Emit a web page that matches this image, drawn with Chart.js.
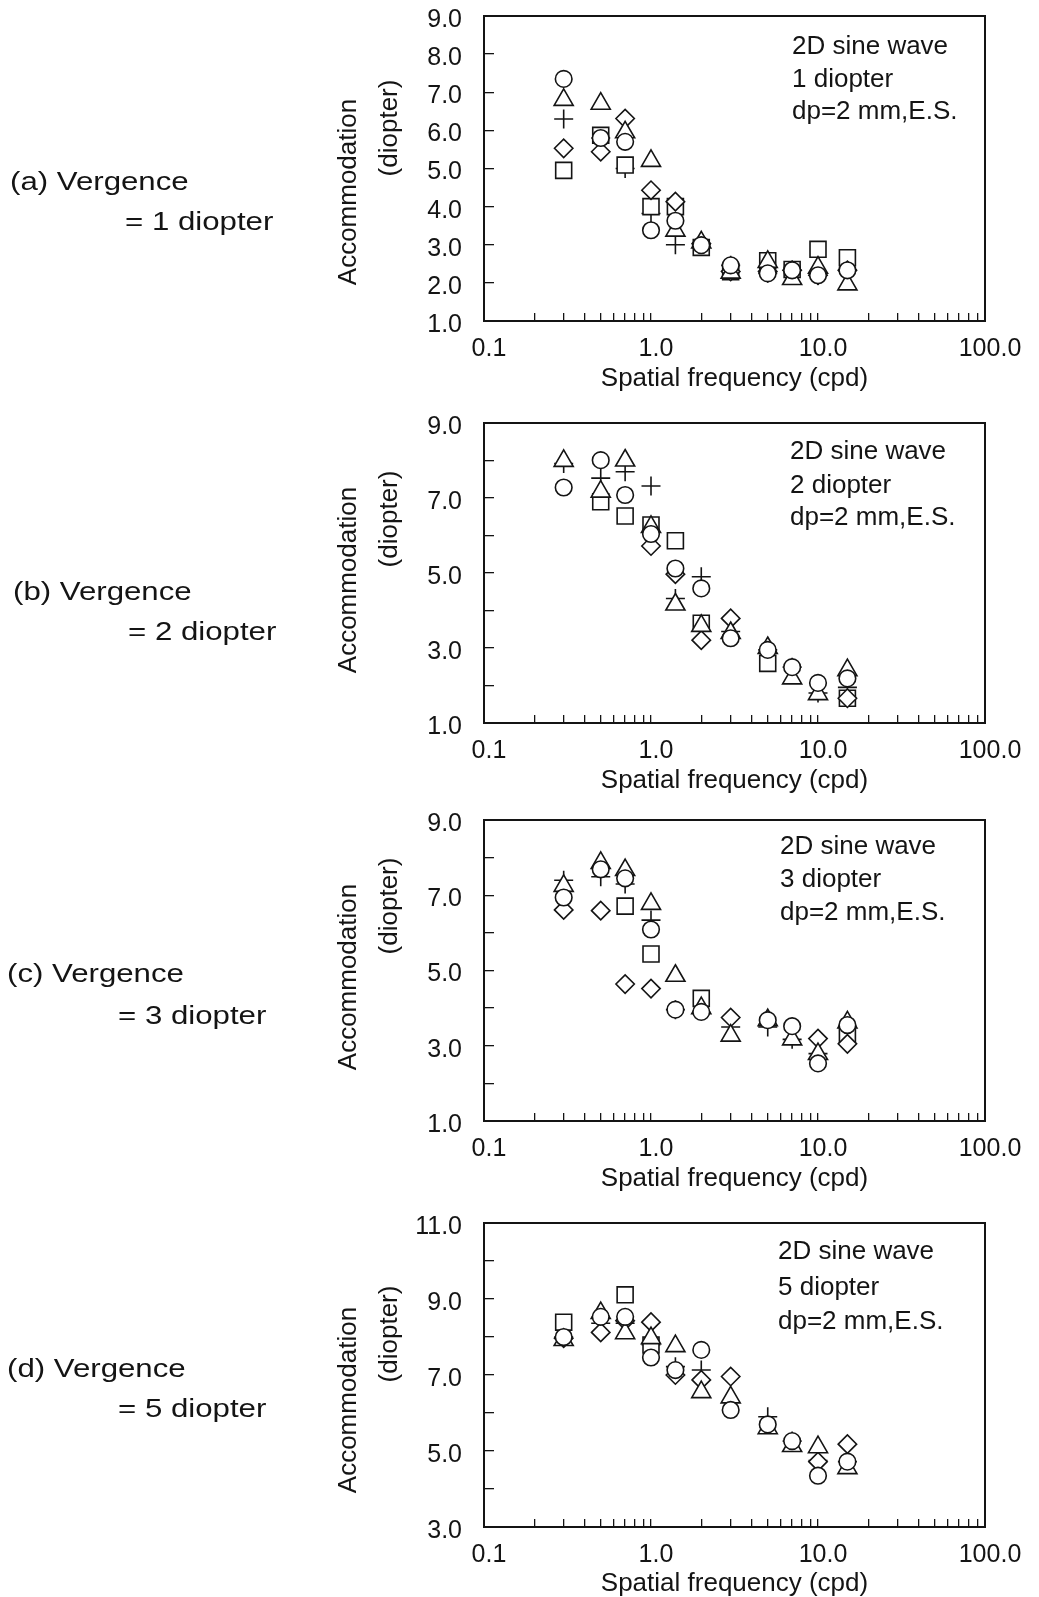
<!DOCTYPE html>
<html>
<head>
<meta charset="utf-8">
<script src="https://cdn.jsdelivr.net/npm/chart.js@4.4.1/dist/chart.umd.min.js"></script>
<style>
  html, body { margin: 0; padding: 0; background: #fff; }
  body { width: 1039px; height: 1597px; position: relative; overflow: hidden; }
  canvas { position: absolute; left: 0; }
</style>
</head>
<body>
<canvas id="chartA" width="1039" height="400" style="top:0px"></canvas>
<canvas id="chartB" width="1039" height="400" style="top:400px"></canvas>
<canvas id="chartC" width="1039" height="400" style="top:800px"></canvas>
<canvas id="chartD" width="1039" height="397" style="top:1200px"></canvas>
<script>
// spatial frequencies (cpd) used in every panel
const freqs = [0.3, 0.5, 0.7, 1.0, 1.4, 2.0, 3.0, 5.0, 7.0, 10.0, 15.0];

// x axis ticks (log) and the ones that carry a label
const xTickValues = [0.1, 0.2, 0.3, 0.4, 0.5, 0.6, 0.7, 0.8, 0.9,
  1, 2, 3, 4, 5, 6, 7, 8, 9, 10, 20, 30, 40, 50, 60, 70, 80, 90, 100];
const xLabelValues = [0.1, 1, 10, 100];
const xLabels = ["0.1", "1.0", "10.0", "100.0"];

// y axis ticks
const yTicksLow = [1, 2, 3, 4, 5, 6, 7, 8, 9];
const yLabelsA = [1, 2, 3, 4, 5, 6, 7, 8, 9];
const yLabelsOdd = [1, 3, 5, 7, 9];
const yTicksHigh = [3, 4, 5, 6, 7, 8, 9, 10, 11];
const yLabelsHigh = [3, 5, 7, 9, 11];

// (a) vergence = 1 diopter
const aCircle   = [7.35, 5.8, 5.7, 3.38, 3.63, 2.99, 2.46, 2.25, 2.33, 2.2, 2.33];
const aTriangle = [6.8, 6.7, 5.95, 5.2, 3.37, 3.06, 2.27, 2.55, 2.1, 2.4, 1.96];
const aCross    = [6.3, 5.8, 5.0, 3.82, 3.0, 3.0, 2.46, 2.25, 2.33, 2.2, 2.33];
const aSquare   = [4.95, 5.87, 5.09, 4.0, 4.0, 2.93, 2.29, 2.58, 2.35, 2.88, 2.66];
const aDiamond  = [5.53, 5.44, 6.31, 4.43, 4.13, 3.03, 2.3, 2.3, 2.33, 2.2, 2.33];

// (b) vergence = 2 diopter
const bCircle   = [7.28, 8.01, 7.08, 6.04, 5.12, 4.59, 3.26, 2.95, 2.49, 2.07, 2.19];
const bTriangle = [7.99, 7.17, 8.0, 6.23, 4.16, 3.59, 3.4, 3.0, 2.19, 1.77, 2.41];
const bCross    = [7.92, 7.53, 7.7, 7.32, 4.32, 4.9, 3.44, 2.95, 2.49, 1.8, 1.95];
const bSquare   = [null, 6.9, 6.52, 6.28, 5.86, 3.66, null, 2.59, null, null, 1.66];
const bDiamond  = [null, null, null, 5.72, 4.97, 3.21, 3.79, null, null, null, 1.66];

// (c) vergence = 3 diopter
const cCircle   = [6.94, 7.69, 7.45, 6.09, 3.96, 3.9, null, 3.68, 3.52, 2.53, 3.55];
const cTriangle = [7.25, 7.86, 7.67, 6.77, 4.86, 4.0, 3.27, 3.68, 3.17, 2.78, 3.62];
const cCross    = [7.4, 7.49, 7.3, 6.34, 3.96, null, 3.5, 3.5, 3.17, 2.79, null];
const cSquare   = [null, null, 6.71, 5.44, null, 4.26, null, null, null, null, 3.31];
const cDiamond  = [6.61, 6.59, 4.64, 4.52, null, null, 3.75, null, null, 3.19, 3.05];

// (d) vergence = 5 diopter
const dCircle   = [8.0, 8.53, 8.53, 7.46, 7.13, 7.66, 6.08, 5.7, 5.26, 4.35, 4.72];
const dTriangle = [7.92, 8.63, 8.1, 7.97, 7.76, 6.55, 6.41, 5.6, 5.13, 5.1, 4.55];
const dCross    = [8.0, 8.36, 8.36, 7.8, 7.22, 7.13, null, 5.9, 5.26, 4.75, 4.72];
const dSquare   = [8.39, null, 9.11, 7.79, null, null, null, null, null, null, null];
const dDiamond  = [7.97, 8.12, 8.43, 8.39, 7.0, 6.87, 6.96, null, null, 4.72, 5.18];

const FONT = '"Liberation Sans", Arial, Helvetica, sans-serif';
const INK = "#141414";

Chart.defaults.font.family = FONT;
Chart.defaults.color = INK;

function points(vals) {
  let out = [];
  vals.forEach((v, i) => {
    if (v !== null) out.push({ x: freqs[i], y: v });
  });
  return out;
}

function series(vals, style, radius) {
  return {
    data: points(vals),
    pointStyle: style,
    pointRadius: radius,
    pointHoverRadius: radius,
    pointBorderWidth: 1.6,
    pointBorderColor: INK,
    pointBackgroundColor: "#ffffff",
    borderColor: INK,
    showLine: false,
  };
}

function drawText(ctx, text, x, y, size, rotate, stretch) {
  ctx.save();
  ctx.font = size + "px " + FONT;
  ctx.fillStyle = INK;
  ctx.textBaseline = "middle";
  ctx.textAlign = rotate ? "center" : "left";
  ctx.translate(x, y);
  if (rotate) ctx.rotate(-Math.PI / 2);
  if (stretch) ctx.scale(stretch, 1);
  ctx.fillText(text, 0, 0);
  ctx.restore();
}

// frame + all the free text of one panel
function panelPlugin(p) {
  return {
    id: "panelText",
    afterDraw(chart) {
      const ctx = chart.ctx;
      const a = chart.chartArea;
      ctx.save();
      ctx.strokeStyle = INK;
      ctx.lineWidth = 2;
      ctx.strokeRect(a.left, a.top, a.right - a.left, a.bottom - a.top);
      ctx.restore();

      drawText(ctx, p.label[0], p.labelPos[0], p.labelPos[1], 26, false, 1.2);
      drawText(ctx, p.label[1], p.labelPos[2], p.labelPos[3], 26, false, 1.2);

      drawText(ctx, "Accommodation", 349, p.yTitle[0], 26, true);
      drawText(ctx, "(diopter)", 390, p.yTitle[1], 26, true);

      p.note.forEach((t, i) => {
        drawText(ctx, t, p.notePos[0], p.notePos[1 + i], 26);
      });
    },
  };
}

function makePanel(id, p) {
  const canvas = document.getElementById(id);
  const config = {
    type: "scatter",
    data: {
      // first dataset is painted last (on top)
      datasets: [
        series(p.circle, "circle", 8.3),
        series(p.triangle, "triangle", 11),
        series(p.diamond, "rectRot", 9.2),
        series(p.square, "rect", 11.3),
        series(p.cross, "cross", 9.5),
      ],
    },
    options: {
      responsive: false,
      animation: false,
      events: [],
      layout: { padding: { top: p.top, right: 54, bottom: 0, left: 0 } },
      plugins: {
        legend: { display: false },
        tooltip: { enabled: false },
      },
      scales: {
        x: {
          type: "logarithmic",
          position: "bottom",
          min: 0.1,
          max: 100,
          afterBuildTicks: (s) => {
            s.ticks = xTickValues.map((v) => ({ value: v }));
          },
          afterFit: (s) => {
            s.height = p.xHeight;
            s.paddingLeft = 0;
            s.paddingRight = 0;
          },
          border: { display: false },
          grid: {
            drawOnChartArea: false,
            drawTicks: true,
            tickLength: -8,
            color: INK,
            lineWidth: 1.3,
          },
          ticks: {
            autoSkip: false,
            maxRotation: 0,
            padding: 21,
            labelOffset: 5,
            color: INK,
            font: { size: 25 },
            callback: (v) => {
              const i = xLabelValues.findIndex((l) => Math.abs(l - v) < 1e-9);
              return i >= 0 ? xLabels[i] : "";
            },
          },
          title: {
            display: true,
            text: "Spatial frequency (cpd)",
            color: INK,
            font: { size: 26, lineHeight: 1 },
            padding: { top: 0, bottom: p.titlePad },
          },
        },
        y: {
          min: p.yMin,
          max: p.yMax,
          afterBuildTicks: (s) => {
            s.ticks = p.yTicks.map((v) => ({ value: v }));
          },
          afterFit: (s) => {
            s.width = 484;
            s.paddingTop = 0;
            s.paddingBottom = 0;
          },
          border: { display: false },
          grid: {
            drawOnChartArea: false,
            drawTicks: true,
            tickLength: -10,
            color: INK,
            lineWidth: 1.3,
          },
          ticks: {
            padding: 32,
            labelOffset: 4,
            color: INK,
            font: { size: 25 },
            callback: (v) => (p.yLabels.includes(v) ? v.toFixed(1) : ""),
          },
        },
      },
    },
    plugins: [panelPlugin(p)],
  };
  return new Chart(canvas, config);
}

makePanel("chartA", {
  circle: aCircle, triangle: aTriangle, cross: aCross, square: aSquare, diamond: aDiamond,
  yMin: 1, yMax: 9, yTicks: yTicksLow, yLabels: yLabelsA,
  top: 16, xHeight: 79, titlePad: 8,
  label: ["(a) Vergence", "= 1 diopter"], labelPos: [10, 183, 125, 223],
  yTitle: [192, 128],
  note: ["2D sine wave", "1 diopter", "dp=2 mm,E.S."], notePos: [792, 47, 80, 112],
});

makePanel("chartB", {
  circle: bCircle, triangle: bTriangle, cross: bCross, square: bSquare, diamond: bDiamond,
  yMin: 1, yMax: 9, yTicks: yTicksLow, yLabels: yLabelsOdd,
  top: 23, xHeight: 77, titlePad: 6,
  label: ["(b) Vergence", "= 2 diopter"], labelPos: [13, 193, 128, 233],
  yTitle: [180, 119],
  note: ["2D sine wave", "2 diopter", "dp=2 mm,E.S."], notePos: [790, 52, 86, 118],
});

makePanel("chartC", {
  circle: cCircle, triangle: cTriangle, cross: cCross, square: cSquare, diamond: cDiamond,
  yMin: 1, yMax: 9, yTicks: yTicksLow, yLabels: yLabelsOdd,
  top: 20, xHeight: 79, titlePad: 8,
  label: ["(c) Vergence", "= 3 diopter"], labelPos: [7, 175, 118, 217],
  yTitle: [177, 106],
  note: ["2D sine wave", "3 diopter", "dp=2 mm,E.S."], notePos: [780, 47, 80, 113],
});

makePanel("chartD", {
  circle: dCircle, triangle: dTriangle, cross: dCross, square: dSquare, diamond: dDiamond,
  yMin: 3, yMax: 11, yTicks: yTicksHigh, yLabels: yLabelsHigh,
  top: 23, xHeight: 70, titlePad: 0,
  label: ["(d) Vergence", "= 5 diopter"], labelPos: [7, 170, 118, 210],
  yTitle: [200, 134],
  note: ["2D sine wave", "5 diopter", "dp=2 mm,E.S."], notePos: [778, 52, 88, 122],
});
</script>
</body>
</html>
